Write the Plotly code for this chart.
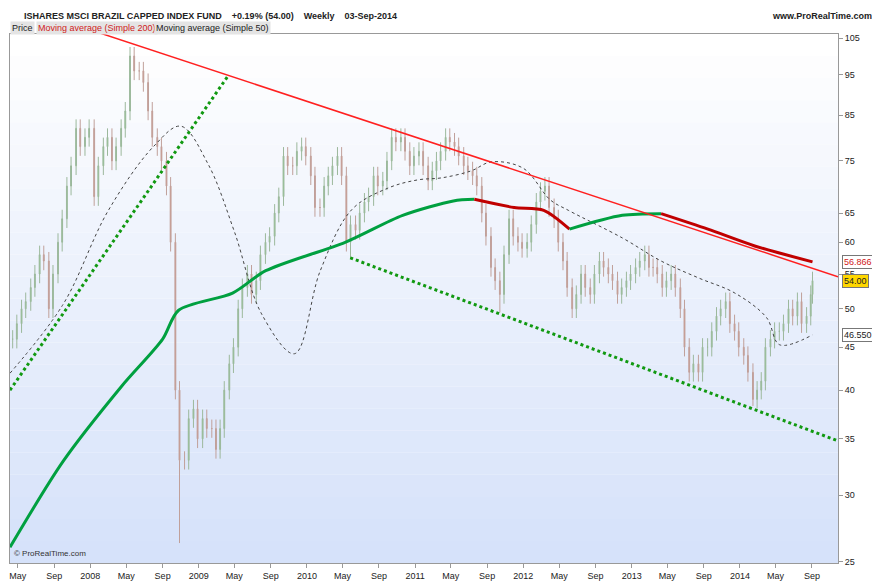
import math
import plotly.graph_objects as go
import pandas as pd

# monthly readings, Apr 2007 .. Sep 2014 (mid-month close, month-end close)
months = pd.period_range("2007-04", "2014-09", freq="M")
mid_close = [46, 50, 53, 58, 50, 60, 70, 82, 80, 68, 78, 75, 82, 100, 96, 86, 78, 70, 40, 33,
             38, 37, 36, 36, 43, 50, 55, 54, 60, 65, 76, 74, 78, 72, 66, 72, 76, 60, 62, 67,
             72, 71, 80, 80, 74, 77, 71, 75, 80, 78, 74, 72, 65, 56, 52, 64, 60, 60, 67, 70,
             64, 57, 50, 55, 52, 57, 55, 52, 54, 56, 58, 56, 53, 55, 50, 42, 42, 45, 49, 51,
             47, 44, 39, 41, 46, 47, 50, 51, 49, 54]
end_close = [48, 51, 55, 57, 55, 64, 74, 78, 82, 74, 80, 78, 86, 96, 93, 80, 75, 60, 33, 37,
             35, 36, 34, 40, 45, 53, 52, 58, 61, 68, 74, 77, 76, 66, 70, 74, 72, 63, 65, 68,
             70, 75, 79, 77, 76, 74, 73, 77, 79, 76, 73, 70, 61, 54, 58, 61, 59, 63, 69, 66,
             60, 53, 52, 53, 55, 56, 54, 53, 55, 57, 56, 55, 54, 53, 45, 43, 45, 47, 50, 48,
             45, 42, 40, 45, 47, 48, 49, 48, 52]
low_override = {"2008-10-28": 26.3, "2010-05-28": 57.5, "2011-10-14": 49.5, "2014-02-14": 38.3}

# moving averages
ma200_dates = ["2007-04-05", "2007-10-01", "2008-04-15", "2008-09-01", "2008-10-25", "2009-04-25",
               "2009-08-15", "2010-05-10", "2010-11-20", "2011-05-10", "2011-07-20", "2011-12-01",
               "2012-03-10", "2012-06-05", "2012-11-30", "2013-04-10", "2013-09-15", "2014-02-20",
               "2014-09-03"]
ma200 = [26.0, 32.9, 40.4, 46.0, 49.8, 52.2, 55.5, 60.0, 64.6, 67.2, 67.5, 66.0,
         65.5, 62.2, 64.6, 64.9, 62.2, 59.4, 56.866]
ma50_dates = ["2007-04-05", "2007-10-01", "2008-03-01", "2008-08-01", "2008-11-01", "2009-02-01",
              "2009-05-01", "2009-08-01", "2009-11-20", "2010-02-15", "2010-06-01", "2010-10-01",
              "2011-01-10", "2011-04-01", "2011-07-10", "2011-09-15", "2012-01-01", "2012-04-01",
              "2012-06-01", "2012-12-01", "2013-04-10", "2013-08-15", "2013-12-15", "2014-04-01",
              "2014-05-15", "2014-09-03"]
ma50 = [41.9, 50.6, 65.4, 78.0, 82.5, 74.4, 61.8, 49.3, 44.2, 55.5, 65.6, 69.6, 71.2,
        71.6, 73.0, 74.8, 73.5, 67.4, 65.5, 60.7, 57.0, 54.4, 52.2, 48.8, 45.3, 46.55]

# trendlines
res_line = (["2008-01-16", "2014-11-28"], [107.0, 54.6])
sup_up = (["2007-04-05", "2009-04-08"], [40.0, 94.5])
sup_dn = (["2010-05-27", "2014-11-28"], [57.5, 34.8])

tick_dates = []
tick_text = []
for yr in range(2007, 2015):
    for m, lab in [(1, str(yr)), (5, "May"), (9, "Sep")]:
        if yr == 2007 and m == 1:
            continue
        tick_dates.append(f"{yr}-{m:02d}-01")
        tick_text.append(lab)
price_ticks = [25, 30, 35, 40, 45, 50, 55, 60, 65, 75, 85, 95, 105]

# build semi-monthly OHLC
dates, opens, highs, lows, closes = [], [], [], [], []
prev = 46.0
for i, p in enumerate(months):
    if i < len(end_close):
        pts = [(f"{p.year}-{p.month:02d}-14", mid_close[i]), (f"{p.year}-{p.month:02d}-28", end_close[i])]
    else:
        pts = [("2014-09-03", mid_close[i])]
    for d, c in pts:
        o = prev
        h = max(o, c) * 1.025
        lo = low_override.get(d, min(o, c) * 0.975)
        dates.append(d); opens.append(o); highs.append(h); lows.append(lo); closes.append(c)
        prev = c

fig = go.Figure()

# gradient background
n = 24
for k in range(n):
    t = k / (n - 1)
    r = int(255 - t * (255 - 214)); g = int(255 - t * (255 - 226)); b = int(255 - t * (255 - 250))
    fig.add_shape(type="rect", xref="paper", yref="paper", x0=0, x1=1,
                  y0=1 - (k + 1) / n, y1=1 - k / n, fillcolor=f"rgb({r},{g},{b})",
                  line_width=0, layer="below")

fig.add_trace(go.Candlestick(x=dates, open=opens, high=highs, low=lows, close=closes,
                             increasing=dict(fillcolor="#84d284", line=dict(color="#9cb89c", width=1)),
                             decreasing=dict(fillcolor="#e08a76", line=dict(color="#c0a09a", width=1)),
                             whiskerwidth=0, showlegend=False, hoverinfo="skip"))

fig.add_trace(go.Scatter(x=ma50_dates, y=ma50, mode="lines",
                         line=dict(color="#444", width=1, dash="dot", shape="spline", smoothing=1.0),
                         showlegend=False))

# MA200 colored by direction, one spline per run
runs = []
for i in range(len(ma200) - 1):
    up = ma200[i + 1] >= ma200[i]
    if runs and runs[-1][0] == up:
        runs[-1][1].append(i + 1)
    else:
        runs.append((up, [i, i + 1]))
for up, idx in runs:
    fig.add_trace(go.Scatter(x=[ma200_dates[j] for j in idx], y=[ma200[j] for j in idx], mode="lines",
                             line=dict(color="#00a040" if up else "#c00000", width=3, shape="spline", smoothing=0.8),
                             showlegend=False))

fig.add_trace(go.Scatter(x=res_line[0], y=res_line[1], mode="lines", line=dict(color="#ff2020", width=1.5), showlegend=False))
for ln in (sup_up, sup_dn):
    fig.add_trace(go.Scatter(x=ln[0], y=ln[1], mode="lines", line=dict(color="#119911", width=3, dash="dot"), showlegend=False))

fig.update_layout(
    width=880, height=587, paper_bgcolor="white", plot_bgcolor="white",
    margin=dict(l=2, r=50, t=26, b=32),
    font=dict(family="Liberation Sans, Arial", size=9, color="#222"),
    xaxis=dict(range=["2007-04-05", "2014-11-28"], tickvals=tick_dates, ticktext=tick_text,
               showgrid=False, rangeslider=dict(visible=False), ticks="outside", ticklen=4,
               tickcolor="#999", linecolor="#999", showline=True, mirror=True,
               tickfont=dict(size=9, family="Liberation Sans Narrow, Arial")),
    yaxis=dict(type="log", side="right", range=[1.3962, 2.0262], tickvals=price_ticks,
               showgrid=False, ticks="outside", ticklen=4, tickcolor="#999",
               linecolor="#999", showline=True, mirror=True, tickfont=dict(size=9)),
)

fig.add_annotation(xref="paper", yref="paper", x=0.0, y=1.0, yshift=18, xanchor="left", yanchor="middle",
                   text="<b>ISHARES MSCI BRAZIL CAPPED INDEX FUND    +0.19% (54.00)    Weekly    03-Sep-2014</b>",
                   showarrow=False, font=dict(size=9, color="#222"), xshift=12)
fig.add_annotation(xref="paper", yref="paper", x=1.0, y=1.0, yshift=18, xanchor="right", yanchor="middle",
                   xshift=36, text="<b>www.ProRealTime.com</b>", showarrow=False, font=dict(size=9, color="#222"))
px0 = 0
for label, col, w in [("Price", "#222", 26), ("Moving average (Simple 200)", "#d02020", 118), ("Moving average (Simple 50)", "#222", 112)]:
    fig.add_annotation(xref="paper", yref="paper", x=0, y=1.0, yshift=6, xanchor="left", yanchor="middle",
                       xshift=px0, text=label, showarrow=False, font=dict(size=9, color=col),
                       bgcolor="#e4e4e4", borderpad=1)
    px0 += w
fig.add_annotation(xref="paper", yref="paper", x=0.003, y=0.005, xanchor="left", yanchor="bottom",
                   text="© ProRealTime.com", showarrow=False, font=dict(size=8, color="#333"))

for val, txt, fg, bg in [(56.866, "56.866", "#d02020", "white"), (54.0, "54.00", "#222", "#ffd700"), (46.55, "46.550", "#222", "white")]:
    fig.add_annotation(xref="paper", yref="y", x=1.0, y=math.log10(val), xanchor="left",
                       xshift=4, text=txt, showarrow=False, font=dict(size=9, color=fg),
                       bgcolor=bg, bordercolor="#777", borderwidth=1, borderpad=1)

fig.write_html("out.html")
